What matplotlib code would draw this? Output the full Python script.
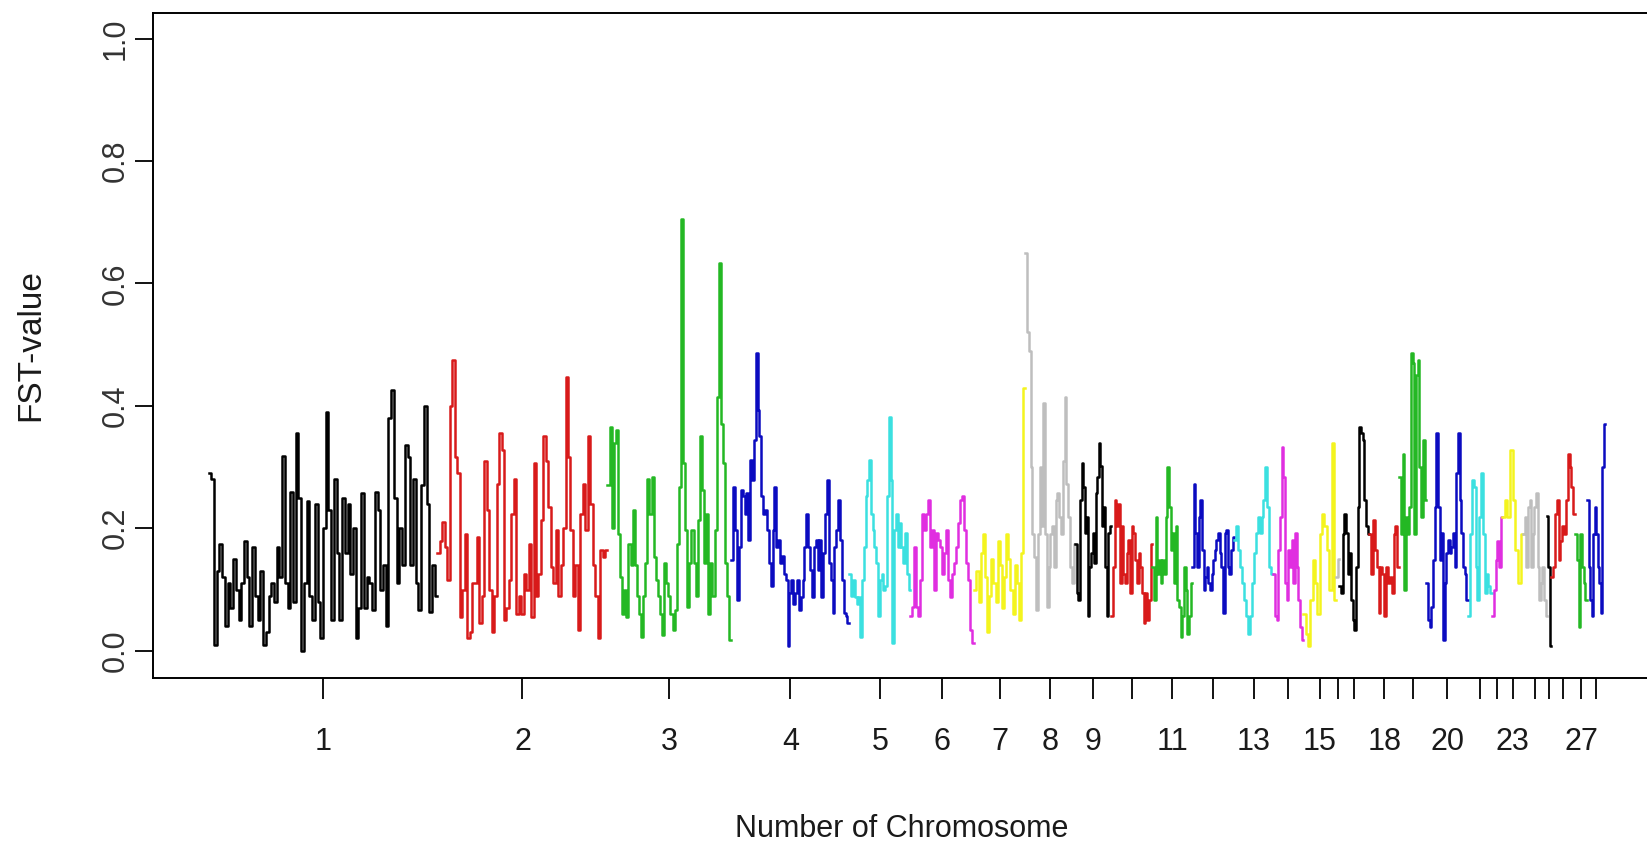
import numpy as np
import matplotlib

matplotlib.use("Agg")
import matplotlib.pyplot as plt

# chromosome ids, relative widths on the x axis and which tick labels R kept
chrom_ids = list(range(1, 29))
chrom_width = [229, 170, 124, 118, 61, 64, 51, 50, 36, 41, 40, 42, 39, 30,
               33, 3, 30, 30, 27, 42, 24, 10, 21, 24, 4, 24, 12, 18]
shown_labels = [1, 2, 3, 4, 5, 6, 7, 8, 9, 11, 13, 15, 18, 20, 23, 27]

y_ticks = [0.0, 0.2, 0.4, 0.6, 0.8, 1.0]
y_tick_labels = ["0.0", "0.2", "0.4", "0.6", "0.8", "1.0"]

# FST values per chromosome
fst_chr1 = [0.29, 0.28, 0.01, 0.13, 0.175, 0.12, 0.04, 0.11, 0.07, 0.15, 0.10, 0.05, 0.11, 0.18,
            0.12, 0.04, 0.17, 0.09, 0.05, 0.13, 0.01, 0.03, 0.09, 0.11, 0.08, 0.17, 0.12, 0.318,
            0.11, 0.07, 0.26, 0.08, 0.355, 0.25, 0.0, 0.11, 0.245, 0.09, 0.05, 0.24, 0.08, 0.02,
            0.20, 0.39, 0.23, 0.05, 0.28, 0.16, 0.05, 0.25, 0.16, 0.24, 0.126, 0.20, 0.02, 0.07,
            0.257, 0.07, 0.12, 0.11, 0.066, 0.26, 0.23, 0.10, 0.14, 0.04, 0.38, 0.426, 0.25, 0.11,
            0.20, 0.14, 0.336, 0.317, 0.14, 0.28, 0.11, 0.066, 0.27, 0.40, 0.24, 0.064, 0.14, 0.09]
fst_chr2 = [0.16, 0.18, 0.21, 0.17, 0.115, 0.40, 0.475, 0.317, 0.29, 0.055, 0.10, 0.19, 0.02,
            0.03, 0.11, 0.11, 0.186, 0.045, 0.09, 0.31, 0.23, 0.10, 0.03, 0.09, 0.273, 0.355,
            0.328, 0.05, 0.07, 0.115, 0.224, 0.28, 0.06, 0.09, 0.06, 0.126, 0.10, 0.175, 0.055,
            0.306, 0.09, 0.126, 0.213, 0.35, 0.31, 0.235, 0.137, 0.11, 0.197, 0.09, 0.14, 0.20,
            0.448, 0.317, 0.197, 0.09, 0.14, 0.034, 0.224, 0.273, 0.197, 0.35, 0.24, 0.14, 0.09,
            0.02, 0.165, 0.153, 0.165]
fst_chr3 = [0.27, 0.366, 0.20, 0.34, 0.36, 0.19, 0.12, 0.06, 0.10, 0.055, 0.175, 0.14, 0.23,
            0.14, 0.09, 0.06, 0.023, 0.09, 0.143, 0.28, 0.224, 0.284, 0.153, 0.115, 0.09, 0.06,
            0.026, 0.143, 0.11, 0.09, 0.06, 0.034, 0.066, 0.175, 0.268, 0.705, 0.306, 0.197,
            0.072, 0.143, 0.197, 0.143, 0.09, 0.213, 0.35, 0.263, 0.143, 0.224, 0.06, 0.143,
            0.09, 0.197, 0.415, 0.633, 0.37, 0.306, 0.143, 0.09, 0.017]
fst_chr4 = [0.148, 0.268, 0.197, 0.083, 0.17, 0.262, 0.252, 0.224, 0.257, 0.181, 0.311, 0.279,
            0.344, 0.486, 0.393, 0.35, 0.252, 0.224, 0.23, 0.197, 0.143, 0.105, 0.197, 0.268,
            0.17, 0.181, 0.143, 0.154, 0.126, 0.115, 0.007, 0.094, 0.115, 0.077, 0.094, 0.115,
            0.066, 0.088, 0.115, 0.17, 0.224, 0.17, 0.132, 0.088, 0.17, 0.181, 0.132, 0.181,
            0.088, 0.159, 0.224, 0.279, 0.143, 0.115, 0.061, 0.17, 0.197, 0.246, 0.181, 0.115,
            0.061, 0.056, 0.045]
fst_chr5 = [0.126, 0.09, 0.115, 0.088, 0.077, 0.088, 0.023, 0.115, 0.17, 0.252, 0.279, 0.311,
            0.224, 0.197, 0.17, 0.143, 0.056, 0.115, 0.126, 0.099, 0.105, 0.252, 0.382, 0.279,
            0.012, 0.197, 0.224, 0.17, 0.208, 0.17, 0.143, 0.192, 0.126, 0.099]
fst_chr6 = [0.056, 0.072, 0.17, 0.072, 0.056, 0.115, 0.224, 0.197, 0.224, 0.246, 0.17, 0.197,
            0.099, 0.192, 0.181, 0.17, 0.126, 0.159, 0.197, 0.115, 0.088, 0.126, 0.143, 0.17,
            0.208, 0.246, 0.252, 0.197, 0.143, 0.115, 0.034, 0.012]
fst_chr7 = [0.10, 0.13, 0.08, 0.16, 0.19, 0.12, 0.03, 0.09, 0.15, 0.11, 0.08, 0.18, 0.14, 0.07,
            0.12, 0.19, 0.15, 0.10, 0.06, 0.14, 0.11, 0.05, 0.16, 0.43]
fst_chr8 = [0.65, 0.52, 0.49, 0.30, 0.19, 0.153, 0.066, 0.19, 0.30, 0.203, 0.404, 0.19, 0.072,
            0.137, 0.19, 0.203, 0.137, 0.246, 0.257, 0.219, 0.19, 0.31, 0.415, 0.273, 0.219,
            0.137, 0.11, 0.175]
fst_chr9 = [0.175, 0.094, 0.083, 0.246, 0.306, 0.268, 0.192, 0.219, 0.056, 0.137, 0.159, 0.192,
            0.143, 0.257, 0.284, 0.339, 0.301, 0.203, 0.235, 0.137, 0.056, 0.192, 0.203]
fst_chr10 = [0.056, 0.137, 0.246, 0.203, 0.24, 0.11, 0.203, 0.126, 0.11, 0.159, 0.181, 0.094,
             0.203, 0.192, 0.148, 0.11, 0.159, 0.137, 0.094, 0.045, 0.094, 0.050, 0.083, 0.175]
fst_chr11 = [0.137, 0.083, 0.219, 0.126, 0.148, 0.11, 0.148, 0.126, 0.219, 0.30, 0.235, 0.165,
             0.192, 0.11, 0.203, 0.083, 0.072, 0.023, 0.056, 0.137, 0.099, 0.028, 0.056, 0.11]
fst_chr12 = [0.137, 0.273, 0.192, 0.137, 0.219, 0.246, 0.165, 0.099, 0.12, 0.137, 0.11, 0.099,
             0.126, 0.148, 0.165, 0.181, 0.192, 0.159, 0.137, 0.061, 0.192, 0.197, 0.137, 0.126,
             0.165, 0.186]
fst_chr13 = [0.181, 0.203, 0.165, 0.137, 0.11, 0.083, 0.056, 0.028, 0.056, 0.11, 0.159, 0.192,
             0.219, 0.192, 0.219, 0.246, 0.30, 0.235, 0.137, 0.126]
fst_chr14 = [0.126, 0.056, 0.05, 0.165, 0.219, 0.333, 0.284, 0.11, 0.083, 0.165, 0.137, 0.181,
             0.11, 0.192, 0.137, 0.083, 0.039, 0.017]
fst_chr15 = [0.06, 0.028, 0.007, 0.083, 0.148, 0.11, 0.06, 0.19, 0.224, 0.203, 0.165, 0.10,
             0.339, 0.083]
fst_chr16 = [0.12, 0.15]
fst_chr17 = [0.105, 0.094, 0.19, 0.224, 0.192, 0.126, 0.159, 0.083, 0.05, 0.034, 0.137, 0.235,
             0.366, 0.355, 0.344, 0.246, 0.203, 0.19]
fst_chr18 = [0.19, 0.126, 0.213, 0.165, 0.137, 0.061, 0.137, 0.126, 0.056, 0.137, 0.11, 0.12,
             0.094, 0.19, 0.203, 0.137]
fst_chr19 = [0.284, 0.19, 0.322, 0.10, 0.219, 0.19, 0.235, 0.486, 0.47, 0.19, 0.45, 0.475, 0.30,
             0.219, 0.344, 0.246]
fst_chr20 = [0.11, 0.05, 0.039, 0.072, 0.148, 0.235, 0.355, 0.235, 0.148, 0.192, 0.017, 0.11,
             0.159, 0.181, 0.159, 0.17, 0.192, 0.137, 0.29, 0.355, 0.246, 0.192, 0.137, 0.126,
             0.083]
fst_chr21 = [0.056, 0.19, 0.279, 0.268, 0.137, 0.083, 0.219, 0.29, 0.19, 0.094, 0.126, 0.105,
             0.094]
fst_chr22 = [0.056, 0.10, 0.148, 0.18, 0.137, 0.219]
fst_chr23 = [0.219, 0.246, 0.219, 0.328, 0.246, 0.165, 0.11, 0.19]
fst_chr24 = [0.19, 0.219, 0.137, 0.235, 0.246, 0.137, 0.19, 0.235, 0.257, 0.137, 0.083, 0.11,
             0.137, 0.083, 0.056]
fst_chr25 = [0.22, 0.137, 0.007]
fst_chr26 = [0.12, 0.137, 0.224, 0.246, 0.148, 0.18, 0.203, 0.19, 0.246, 0.322, 0.30, 0.268,
             0.224]
fst_chr27 = [0.19, 0.148, 0.039, 0.19, 0.137, 0.11, 0.083]
fst_chr28 = [0.246, 0.137, 0.083, 0.056, 0.19, 0.235, 0.19, 0.137, 0.11, 0.061, 0.30, 0.37]

fst_by_chrom = [fst_chr1, fst_chr2, fst_chr3, fst_chr4, fst_chr5, fst_chr6, fst_chr7,
                fst_chr8, fst_chr9, fst_chr10, fst_chr11, fst_chr12, fst_chr13, fst_chr14,
                fst_chr15, fst_chr16, fst_chr17, fst_chr18, fst_chr19, fst_chr20, fst_chr21,
                fst_chr22, fst_chr23, fst_chr24, fst_chr25, fst_chr26, fst_chr27, fst_chr28]

# R default palette(): black, red, green3, blue, cyan, magenta, yellow, gray
r_palette = ["#000000", "#D81A1A", "#24B824", "#0B0BC0", "#3BE0E0", "#E02EE0", "#F4F41E", "#BEBEBE"]

plt.rcParams["font.family"] = ["Liberation Sans", "DejaVu Sans"]

W, H = 1647, 843
fig = plt.figure(figsize=(W / 100, H / 100), dpi=100)
left_px, right_px, top_px, bottom_px = 152.7, 1661.0, 12.6, 678.0
ax = fig.add_axes([left_px / W, (H - bottom_px) / H, (right_px - left_px) / W, (bottom_px - top_px) / H])

starts = np.concatenate([[0], np.cumsum(chrom_width)[:-1]])
for chrom, start, width, values in zip(chrom_ids, starts, chrom_width, fst_by_chrom):
    n = len(values)
    x = start + width * np.arange(n + 1) / n
    y = list(values) + [values[-1]]
    ax.plot(x, y, drawstyle="steps-post", color=r_palette[(chrom - 1) % 8], lw=1.8)

total = float(sum(chrom_width))
ax.set_xlim(-0.04 * total, 1.04 * total)
ax.set_ylim(-0.0446, 1.0426)

mids = starts + np.array(chrom_width) / 2
ax.set_xticks(mids, [str(c) if c in shown_labels else "" for c in chrom_ids])
ax.set_yticks(y_ticks, y_tick_labels)

for side in ax.spines.values():
    side.set_linewidth(1.4)

ax.tick_params(axis="x", length=15, width=1.3, pad=20, labelsize=22, labelcolor="#1a1a1a")
ax.tick_params(axis="y", length=13, width=1.3, pad=3, labelsize=22, labelrotation=90,
               labelcolor="#333333")
for lbl in ax.get_yticklabels():
    lbl.set_va("center")

fig.text(902 / W, (H - 837) / H, "Number of Chromosome", ha="center", va="baseline",
         fontsize=22, color="#1a1a1a")
fig.text(31 / W, 1 - 345 / H, "FST-value", rotation=90, ha="center", va="center",
         fontsize=24, color="#1a1a1a")

fig.savefig("out.png", dpi=100)
